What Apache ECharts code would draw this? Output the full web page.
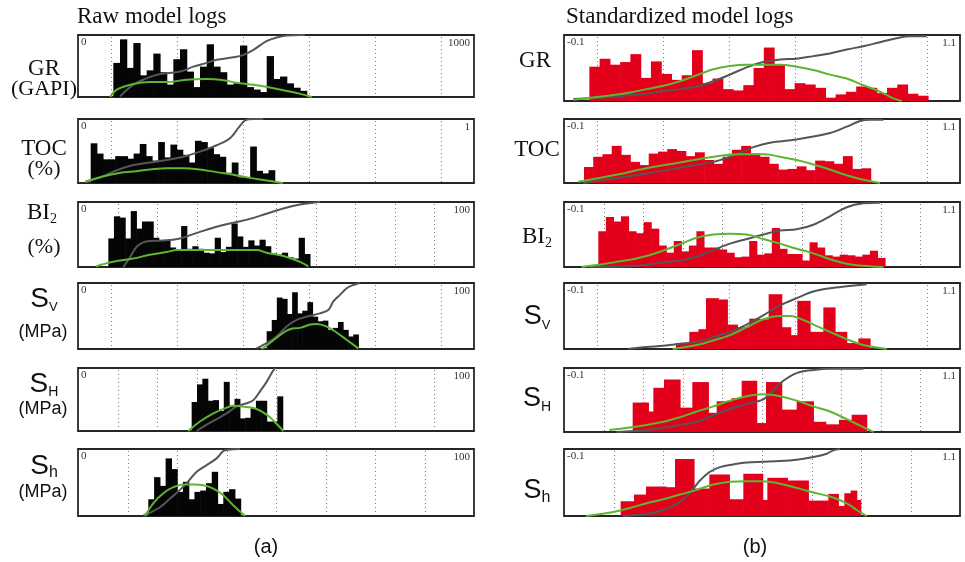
<!DOCTYPE html>
<html>
<head>
<meta charset="utf-8">
<script src="https://cdn.jsdelivr.net/npm/echarts@6/dist/echarts.min.js"></script>
<style>
html, body { margin: 0; padding: 0; background: #fff; }
#chart { width: 965px; height: 562px; }
</style>
</head>
<body>
<div id="chart"></div>
<script>
// ---------------- axis ranges & end labels ----------------
const rawRanges = [[0, 1000], [0, 1], [0, 100], [0, 100], [0, 100], [0, 100]];
const rawEndLabels = [['0', '1000'], ['0', '1'], ['0', '100'], ['0', '100'], ['0', '100'], ['0', '100']];
const stdRange = [-0.1, 1.1];
const stdEndLabels = ['-0.1', '1.1'];
// dotted guide layout per row: 'half6' = 6 cells (line in middle of each), 'ten' = 10 cells, 'eight' = 8 cells
const rowGuides = ['half6', 'half6', 'ten', 'half6', 'ten', 'eight'];

// ---------------- raw model logs (histogram bins: start, bin width, heights in %) ----------------
const rawGrStart = 89.2, rawGrWidth = 16.84;
const rawGrHeights = [55, 93, 47, 87, 35, 43, 70, 40, 20, 61, 77, 41, 16, 49, 85, 49, 40, 20, 22, 83, 16, 12, 8, 66, 29, 33, 22, 15, 10];
const rawGrCum = [[106, 1], [140, 20], [173, 30], [207, 37], [258, 41], [291, 49], [325, 55], [350, 60], [392, 64], [418, 68], [443, 76], [476, 90], [502, 96], [527, 99], [561, 100], [573, 100]];
const rawGrFit = [[81, 0], [98, 12], [140, 21], [182, 24], [224, 24], [274, 28], [325, 29], [359, 28], [409, 22], [460, 18], [510, 12], [561, 5], [590, 0]];

const rawTocStart = 0.032, rawTocWidth = 0.01549;
const rawTocHeights = [62, 46, 37, 37, 42, 42, 38, 46, 61, 42, 35, 64, 40, 60, 52, 44, 32, 66, 64, 55, 45, 41, 16, 32, 9, 9, 57, 19, 15, 20];
const rawTocCum = [[0.020, 2], [0.056, 9], [0.098, 20], [0.140, 28], [0.182, 32], [0.224, 36], [0.266, 41], [0.308, 49], [0.350, 59], [0.384, 70], [0.405, 86], [0.422, 98], [0.443, 100], [0.468, 100]];
const rawTocFit = [[0.018, 2], [0.056, 9], [0.098, 15], [0.140, 18], [0.182, 21], [0.224, 23], [0.266, 23], [0.308, 21], [0.350, 17], [0.392, 13], [0.434, 8], [0.476, 4], [0.517, 0]];

const rawBiStart = 7.66, rawBiWidth = 1.414;
const rawBiHeights = [44, 78, 76, 44, 86, 59, 70, 70, 45, 40, 41, 30, 26, 63, 28, 32, 28, 22, 21, 45, 23, 31, 67, 47, 31, 41, 33, 42, 32, 21, 19, 22, 15, 13, 45, 20];
const rawBiCum = [[11.45, 0], [13.13, 15], [14.8, 31], [16.5, 38], [18.18, 40], [22.4, 41], [25.76, 44], [27.44, 47], [30.8, 54], [35.0, 62], [39.2, 68], [43.4, 74], [47.6, 82], [51.85, 90], [56.06, 96], [59.4, 99], [61.1, 100]];
const rawBiFit = [[4.55, 1], [8.92, 8], [13.97, 13], [18.18, 19], [22.39, 23], [24.9, 26], [30.8, 26], [35.0, 26], [39.2, 26], [45.1, 26], [47.6, 22], [51.85, 17], [56.06, 8], [58.16, 1]];

const rawSvStart = 47.64, rawSvWidth = 1.286;
const rawSvHeights = [27, 44, 78, 76, 53, 86, 54, 58, 71, 49, 42, 43, 29, 32, 41, 29, 19, 22];
const rawSvCum = [[45.1, 1], [47.64, 9], [50.17, 19], [52.7, 34], [55.2, 44], [57.74, 49], [61.1, 54], [63.2, 59], [64.48, 72], [66.16, 82], [67.85, 92], [69.53, 97], [71.2, 100]];
const rawSvFit = [[46.38, 0], [48.48, 9], [51.0, 21], [53.5, 30], [56.06, 32], [58.6, 37], [60.27, 38], [62.8, 34], [65.3, 25], [67.8, 14], [70.8, 1]];

const rawSHStart = 28.7, rawSHWidth = 1.352;
const rawSHHeights = [46, 74, 83, 48, 49, 32, 78, 39, 51, 20, 21, 36, 48, 48, 15, 15, 55];
const rawSHCum = [[29.97, 0], [32.5, 10], [35.0, 19], [37.54, 28], [40.07, 39], [42.6, 44], [44.28, 49], [45.96, 63], [47.64, 78], [48.9, 92], [49.75, 100]];
const rawSHFit = [[27.86, 0], [30.8, 15], [34.18, 28], [37.54, 37], [39.2, 40], [42.6, 38], [45.1, 35], [47.64, 26], [49.75, 14], [51.85, 0]];

const rawShStart = 17.76, rawShWidth = 1.456;
const rawShHeights = [25, 58, 45, 86, 70, 36, 51, 25, 36, 38, 49, 66, 18, 36, 40, 26];
const rawShCum = [[16.5, 1], [18.18, 5], [20.7, 13], [23.23, 26], [25.76, 39], [27.44, 49], [29.97, 66], [32.5, 76], [35.0, 86], [36.7, 97], [37.96, 99], [40.9, 100]];
const rawShFit = [[16.92, 0], [19.0, 19], [21.55, 34], [24.07, 43], [26.6, 47], [29.1, 47], [31.65, 46], [34.18, 41], [36.7, 31], [39.2, 16], [42.17, 0]];

// ---------------- standardized model logs ----------------
const stdGrStart = -0.0232, stdGrWidth = 0.0311;
const stdGrHeights = [52, 64, 55, 59, 71, 35, 60, 41, 32, 39, 77, 27, 34, 18, 16, 24, 50, 81, 55, 18, 27, 25, 20, 5, 10, 14, 22, 20, 12, 20, 25, 11, 8];
const stdGrCum = [[-0.0717, 3], [0.0495, 6], [0.100, 9], [0.1506, 11], [0.201, 15], [0.2516, 18], [0.302, 22], [0.3524, 30], [0.4028, 40], [0.4532, 51], [0.5036, 59], [0.5546, 63], [0.605, 64], [0.6555, 68], [0.706, 72], [0.7566, 78], [0.807, 83], [0.8576, 89], [0.908, 95], [0.9484, 98], [0.999, 98]];
const stdGrFit = [[-0.0717, 2], [-0.001, 6], [0.0495, 9], [0.1, 13], [0.1505, 18], [0.201, 23], [0.2515, 30], [0.302, 39], [0.3525, 48], [0.403, 53], [0.4535, 55], [0.504, 55], [0.5545, 55], [0.605, 52], [0.6556, 47], [0.706, 40], [0.7566, 34], [0.807, 24], [0.8576, 14], [0.898, 4], [0.923, 0]];

const stdTocStart = -0.0394, stdTocWidth = 0.02802;
const stdTocHeights = [25, 41, 45, 58, 44, 33, 28, 46, 49, 53, 50, 42, 48, 36, 30, 41, 52, 58, 46, 41, 30, 21, 22, 26, 20, 35, 34, 30, 42, 22, 23];
const stdTocCum = [[-0.0414, 0], [0.0495, 7], [0.1505, 15], [0.2515, 24], [0.3525, 33], [0.403, 41], [0.433, 47], [0.4737, 56], [0.524, 63], [0.605, 68], [0.706, 78], [0.7566, 88], [0.797, 97], [0.827, 99], [0.8677, 99]];
const stdTocFit = [[-0.0566, 2], [0.0495, 12], [0.1505, 23], [0.2515, 32], [0.3525, 41], [0.433, 45], [0.504, 45], [0.5545, 41], [0.605, 36], [0.6556, 29], [0.706, 21], [0.7566, 12], [0.807, 5], [0.8576, 0]];

const stdBiStart = 0.004, stdBiWidth = 0.02286;
const stdBiHeights = [55, 77, 70, 78, 55, 52, 69, 59, 33, 22, 40, 24, 33, 55, 30, 30, 27, 22, 15, 16, 40, 19, 21, 60, 28, 20, 20, 10, 38, 30, 18, 16, 19, 18, 16, 19, 25, 14];
const stdBiCum = [[-0.0212, 0], [0.1, 1], [0.201, 7], [0.2515, 10], [0.302, 16], [0.3525, 26], [0.403, 36], [0.4535, 43], [0.504, 50], [0.5545, 56], [0.605, 58], [0.6556, 65], [0.706, 78], [0.7566, 92], [0.807, 98], [0.8576, 99]];
const stdBiFit = [[-0.0465, 0], [0.0495, 7], [0.1505, 17], [0.2515, 35], [0.302, 45], [0.3525, 50], [0.403, 51], [0.4535, 50], [0.504, 43], [0.5545, 36], [0.605, 28], [0.6556, 21], [0.706, 12], [0.7566, 5], [0.807, 2], [0.8677, 0]];

// irregular bins: explicit edges
const stdSvEdges = [0.2394, 0.2798, 0.3071, 0.3303, 0.3677, 0.3949, 0.4253, 0.4616, 0.4939, 0.5202, 0.5596, 0.5869, 0.6071, 0.6455, 0.6859, 0.7212, 0.7566, 0.7919, 0.8273];
const stdSvHeights = [9, 26, 30, 77, 75, 37, 33, 46, 45, 83, 33, 21, 73, 26, 63, 26, 9, 16];
const stdSvCum = [[0.095, 0], [0.1505, 3], [0.201, 5], [0.2515, 8], [0.302, 11], [0.3525, 18], [0.403, 26], [0.4535, 37], [0.504, 51], [0.5545, 66], [0.605, 77], [0.6556, 87], [0.706, 92], [0.7566, 95], [0.817, 98]];
const stdSvFit = [[0.2293, 0], [0.302, 6], [0.3525, 13], [0.403, 21], [0.4535, 33], [0.504, 45], [0.5545, 50], [0.5848, 50], [0.6253, 44], [0.6556, 37], [0.706, 26], [0.7566, 15], [0.807, 6], [0.8778, 0]];

const stdSHEdges = [0.1081, 0.1556, 0.1707, 0.2030, 0.2515, 0.2889, 0.3374, 0.3626, 0.4081, 0.4384, 0.4838, 0.5121, 0.5596, 0.6051, 0.6556, 0.6929, 0.7333, 0.7717, 0.8172];
const stdSHHeights = [46, 32, 69, 82, 38, 78, 30, 48, 53, 80, 14, 78, 35, 48, 16, 12, 19, 27];
const stdSHCum = [[0.0596, 0], [0.1505, 3], [0.2515, 11], [0.302, 16], [0.3525, 26], [0.403, 36], [0.4535, 44], [0.504, 51], [0.5343, 65], [0.5646, 80], [0.605, 92], [0.6556, 97], [0.706, 99], [0.7566, 99], [0.807, 99]];
const stdSHFit = [[0.0374, 3], [0.1, 7], [0.1505, 11], [0.201, 16], [0.2515, 23], [0.302, 32], [0.3525, 40], [0.403, 49], [0.4535, 56], [0.504, 59], [0.5545, 56], [0.605, 49], [0.6556, 40], [0.706, 32], [0.7566, 20], [0.797, 10], [0.8374, 0]];

const stdShEdges = [0.0717, 0.1121, 0.1485, 0.2091, 0.2364, 0.2939, 0.3404, 0.4010, 0.4434, 0.5020, 0.5162, 0.5768, 0.6404, 0.7010, 0.7313, 0.7495, 0.7687, 0.7869, 0.7990];
const stdShHeights = [22, 32, 44, 43, 85, 41, 62, 25, 63, 24, 57, 53, 23, 33, 15, 34, 38, 24];
const stdShCum = [[0.0798, 0], [0.1505, 3], [0.201, 9], [0.2313, 15], [0.2616, 25], [0.2919, 41], [0.3121, 53], [0.3424, 66], [0.3727, 73], [0.4131, 77], [0.4535, 80], [0.504, 81], [0.5545, 82], [0.605, 84], [0.6556, 88], [0.696, 93], [0.7162, 98], [0.7364, 100]];
const stdShFit = [[-0.0333, 0], [0.0495, 6], [0.1, 12], [0.1505, 19], [0.201, 25], [0.2515, 32], [0.302, 39], [0.3525, 47], [0.403, 51], [0.4535, 52], [0.504, 52], [0.5545, 48], [0.605, 42], [0.6556, 35], [0.706, 29], [0.7566, 19], [0.7869, 9], [0.8172, 0]];

// ---------------- helpers ----------------
function uniformBins(start, width, heights) {
  return heights.map((h, i) => [start + i * width, start + (i + 1) * width, h]);
}
function edgeBins(edges, heights) {
  return heights.map((h, i) => [edges[i], edges[i + 1], h]);
}
function guideFractions(kind) {
  if (kind === 'half6') return [1, 3, 5, 7, 9, 11].map(k => k / 12);
  if (kind === 'ten') return [1, 2, 3, 4, 5, 6, 7, 8, 9].map(k => k / 10);
  return [1, 2, 3, 4, 5, 6, 7].map(k => k / 8);
}

const rawBins = [
  uniformBins(rawGrStart, rawGrWidth, rawGrHeights),
  uniformBins(rawTocStart, rawTocWidth, rawTocHeights),
  uniformBins(rawBiStart, rawBiWidth, rawBiHeights),
  uniformBins(rawSvStart, rawSvWidth, rawSvHeights),
  uniformBins(rawSHStart, rawSHWidth, rawSHHeights),
  uniformBins(rawShStart, rawShWidth, rawShHeights)
];
const rawCums = [rawGrCum, rawTocCum, rawBiCum, rawSvCum, rawSHCum, rawShCum];
const rawFits = [rawGrFit, rawTocFit, rawBiFit, rawSvFit, rawSHFit, rawShFit];

const stdBins = [
  uniformBins(stdGrStart, stdGrWidth, stdGrHeights),
  uniformBins(stdTocStart, stdTocWidth, stdTocHeights),
  uniformBins(stdBiStart, stdBiWidth, stdBiHeights),
  edgeBins(stdSvEdges, stdSvHeights),
  edgeBins(stdSHEdges, stdSHHeights),
  edgeBins(stdShEdges, stdShHeights)
];
const stdCums = [stdGrCum, stdTocCum, stdBiCum, stdSvCum, stdSHCum, stdShCum];
const stdFits = [stdGrFit, stdTocFit, stdBiFit, stdSvFit, stdSHFit, stdShFit];

// ---------------- layout ----------------
const colLeft = [78, 564];
const panelWidth = 396;
const rowBoxes = [
  [[35, 62], [119, 64], [202, 65], [283, 66], [368, 63], [449, 67]],
  [[35, 66], [119, 64], [202, 65], [283, 66], [368, 64], [449, 67]]
];
const barColors = ['#050505', '#e3001b'];
const cumColor = '#555555';
const fitColor = '#5db530';

const panels = [];
for (let col = 0; col < 2; col++) {
  for (let row = 0; row < 6; row++) {
    const range = col === 0 ? rawRanges[row] : stdRange;
    panels.push({
      col, row,
      min: range[0], max: range[1],
      endLabels: col === 0 ? rawEndLabels[row] : stdEndLabels,
      bins: col === 0 ? rawBins[row] : stdBins[row],
      cum: col === 0 ? rawCums[row] : stdCums[row],
      fit: col === 0 ? rawFits[row] : stdFits[row],
      guides: guideFractions(rowGuides[row]).map(f => range[0] + f * (range[1] - range[0])),
      left: colLeft[col], top: rowBoxes[col][row][0], height: rowBoxes[col][row][1]
    });
  }
}

const grids = [], xAxes = [], yAxes = [], series = [], graphics = [];
panels.forEach((p, i) => {
  grids.push({
    left: p.left, top: p.top, width: panelWidth, height: p.height,
    show: true, backgroundColor: '#fff', borderColor: '#262626', borderWidth: 1.8
  });
  xAxes.push({ type: 'value', gridIndex: i, min: p.min, max: p.max, show: false });
  yAxes.push({ type: 'value', gridIndex: i, min: 0, max: 100, show: false });

  // dotted guides
  series.push({
    type: 'custom', xAxisIndex: i, yAxisIndex: i, z: 1, silent: true,
    data: p.guides.map(v => [v, 0]),
    encode: { x: 0, y: 1 },
    renderItem: (params, api) => {
      const a = api.coord([api.value(0), 100]);
      const b = api.coord([api.value(0), 0]);
      return {
        type: 'line',
        shape: { x1: Math.round(a[0]) + 0.5, y1: a[1] + 2, x2: Math.round(b[0]) + 0.5, y2: b[1] - 1 },
        style: { stroke: '#7a7a7a', lineWidth: 1, lineDash: [1, 3] }
      };
    }
  });

  // histogram bars
  const fill = barColors[p.col];
  series.push({
    type: 'custom', xAxisIndex: i, yAxisIndex: i, z: 2, silent: true,
    data: p.bins,
    encode: { x: [0, 1], y: 2 },
    renderItem: (params, api) => {
      const tl = api.coord([api.value(0), api.value(2)]);
      const br = api.coord([api.value(1), 0]);
      return {
        type: 'rect',
        shape: { x: tl[0], y: tl[1], width: br[0] - tl[0] + 0.6, height: br[1] - tl[1] },
        style: { fill: fill }
      };
    }
  });

  // cumulative curve
  series.push({
    type: 'line', xAxisIndex: i, yAxisIndex: i, z: 3, silent: true,
    data: p.cum, showSymbol: false, smooth: 0.35,
    lineStyle: { color: cumColor, width: 2 }
  });

  // fitted distribution curve
  series.push({
    type: 'line', xAxisIndex: i, yAxisIndex: i, z: 4, silent: true,
    data: p.fit, showSymbol: false, smooth: 0.4,
    lineStyle: { color: fitColor, width: 2 }
  });

  // end-of-range labels
  graphics.push({
    type: 'text', x: p.left + 3, y: p.top + 2, z: 10,
    style: { text: p.endLabels[0], font: '11px "Liberation Serif"', fill: '#333', align: 'left', verticalAlign: 'top' }
  });
  graphics.push({
    type: 'text', x: p.left + panelWidth - 4, y: p.top + 3, z: 10,
    style: { text: p.endLabels[1], font: '11px "Liberation Serif"', fill: '#333', align: 'right', verticalAlign: 'top' }
  });
});

// ---------------- titles & row labels ----------------
const serif = '"Liberation Serif", "Times New Roman", serif';
const sans = '"Liberation Sans", Arial, sans-serif';
const columnTitles = ['Raw model logs', 'Standardized model logs'];
const panelCaptions = ['(a)', '(b)'];
const titleX = [77, 566];
const captionX = [266, 755];
const labelX = [44, 537];

columnTitles.forEach((t, c) => {
  graphics.push({
    type: 'text', x: titleX[c], y: 17,
    style: { text: t, font: '23px ' + serif, fill: '#111', align: 'left', verticalAlign: 'middle' }
  });
  graphics.push({
    type: 'text', x: captionX[c], y: 547,
    style: { text: panelCaptions[c], font: '20px ' + sans, fill: '#111', align: 'center', verticalAlign: 'middle' }
  });
});

function plainLabel(text, x, y, font) {
  graphics.push({ type: 'text', x, y, style: { text, font, fill: '#111', align: 'center', verticalAlign: 'middle' } });
}
function subLabel(main, sub, x, y, family, mainSize, subSize, mainLH, subLH) {
  graphics.push({
    type: 'text', x, y,
    style: {
      text: '{m|' + main + '}{s|' + sub + '}',
      align: 'center', verticalAlign: 'middle', fill: '#111',
      rich: {
        m: { fontFamily: family, fontSize: mainSize, lineHeight: mainLH, fill: '#111' },
        s: { fontFamily: family, fontSize: subSize, lineHeight: subLH, verticalAlign: 'bottom', fill: '#111' }
      }
    }
  });
}

// left column
plainLabel('GR', labelX[0], 69, '23px ' + serif);
plainLabel('(GAPI)', labelX[0], 89, '22px ' + serif);
plainLabel('TOC', labelX[0], 149, '23px ' + serif);
plainLabel('(%)', labelX[0], 169, '22px ' + serif);
subLabel('BI', '2', labelX[0] - 2, 213, serif, 23, 14, 26, 10);
plainLabel('(%)', labelX[0], 247, '22px ' + serif);
subLabel('S', 'V', labelX[0], 299, sans, 28, 13, 30, 22);
plainLabel('(MPa)', labelX[0] - 1, 332, '18px ' + sans);
subLabel('S', 'H', labelX[0], 384, sans, 28, 14, 30, 22);
plainLabel('(MPa)', labelX[0] - 1, 409, '18px ' + sans);
subLabel('S', 'h', labelX[0], 466, sans, 28, 16, 30, 22);
plainLabel('(MPa)', labelX[0] - 1, 492, '18px ' + sans);

// right column
plainLabel('GR', labelX[1] - 2, 61, '23px ' + serif);
plainLabel('TOC', labelX[1], 150, '23px ' + serif);
subLabel('BI', '2', labelX[1], 237, serif, 23, 14, 26, 10);
subLabel('S', 'V', labelX[1], 317, sans, 27, 13, 30, 22);
subLabel('S', 'H', labelX[1], 399, sans, 27, 14, 30, 22);
subLabel('S', 'h', labelX[1], 491, sans, 27, 16, 30, 22);

const chart = echarts.init(document.getElementById('chart'), null, { renderer: 'canvas' });
chart.setOption({
  animation: false,
  backgroundColor: '#fff',
  grid: grids,
  xAxis: xAxes,
  yAxis: yAxes,
  series: series,
  graphic: graphics
});
</script>
</body>
</html>
